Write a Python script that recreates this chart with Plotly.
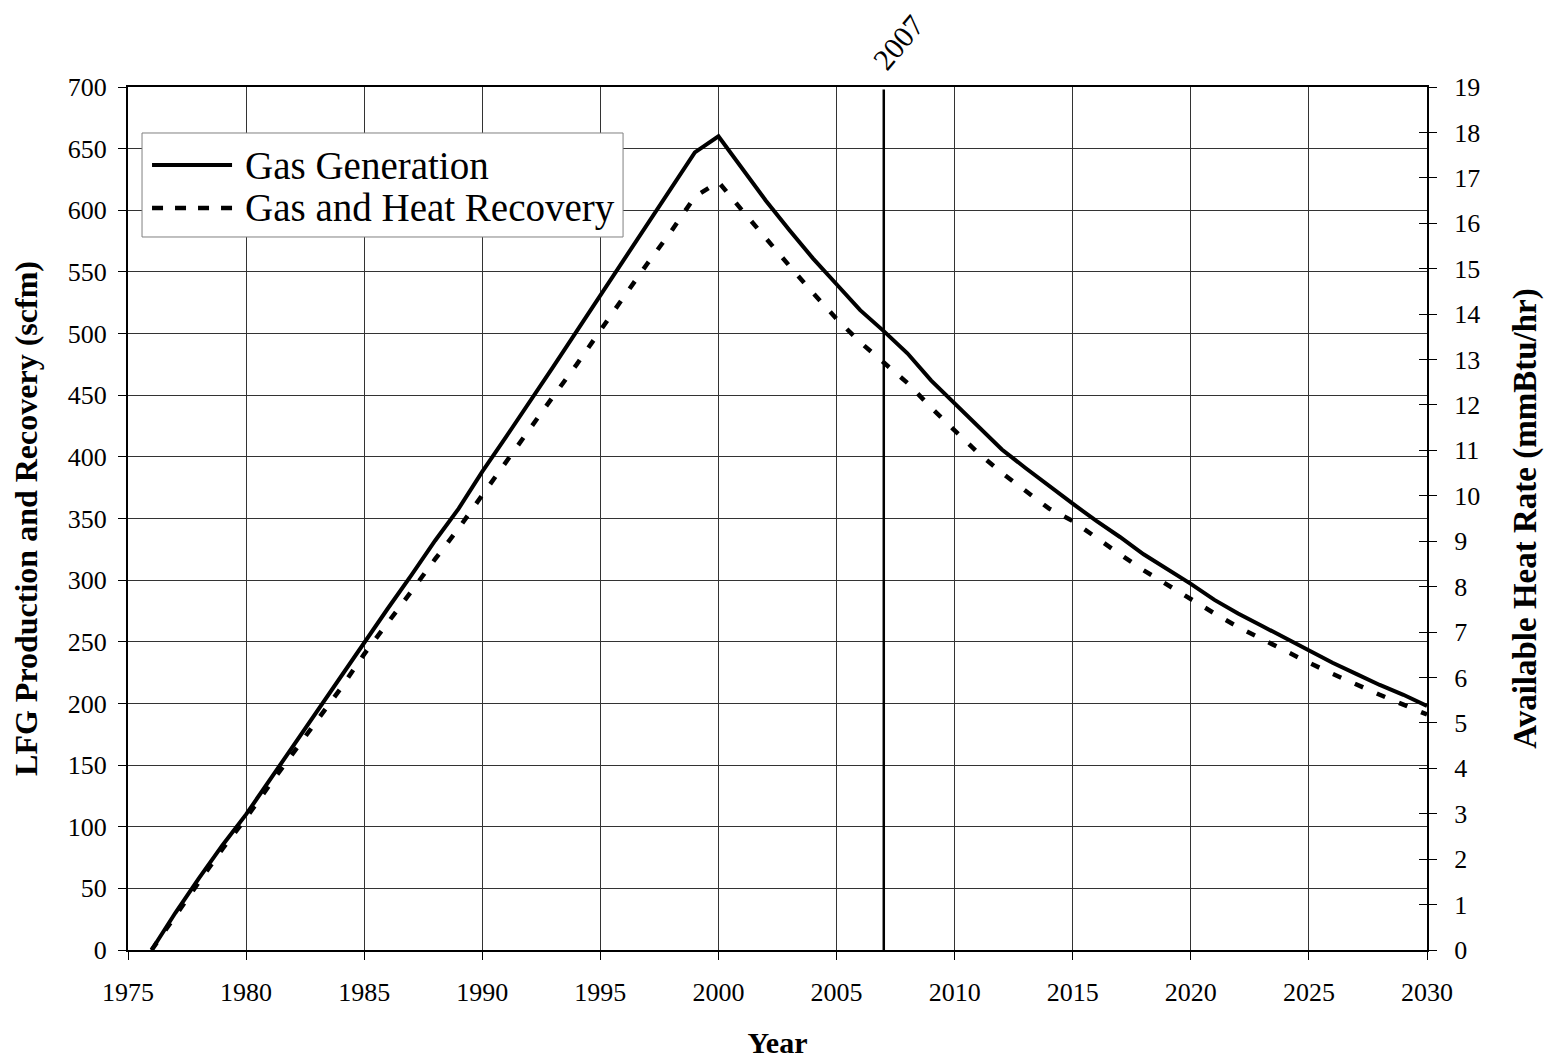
import plotly.graph_objects as go

years = list(range(1976, 2031))
gas_generation = [0, 30, 58, 85, 110, 138, 166, 194, 222, 250,
                  277, 304, 332, 358, 388, 416, 444, 473, 502, 531,
                  560, 589, 618, 647, 660, 634, 608, 584, 561, 540,
                  519, 502, 484, 462, 443, 424, 406, 391, 376, 362,
                  348, 335, 321, 309, 297, 284, 273, 263, 253, 243,
                  233, 224, 215, 207, 198]
gas_heat_recovery = [0, 28, 55, 82, 107, 134, 160, 186, 212, 240,
                     265, 291, 317, 342, 369, 396, 423, 449, 475, 503,
                     530, 557, 583, 611, 623, 600, 577, 555, 533, 512,
                     493, 477, 460, 440, 421, 403, 387, 372, 358, 348,
                     334, 321, 308, 296, 284, 273, 262, 252, 242, 233,
                     224, 215, 207, 199, 191]
marker_year = [2007, 2007]
marker_vals = [0, 698]
marker_label = "2007"
series_names = ["Gas Generation", "Gas and Heat Recovery"]

FONT = "Liberation Serif"
DASH = "9px,15px"

fig = go.Figure()
fig.add_trace(go.Scatter(x=years, y=gas_generation, mode="lines", name=series_names[0],
                         line=dict(color="black", width=4), showlegend=False))
fig.add_trace(go.Scatter(x=years, y=gas_heat_recovery, mode="lines", name=series_names[1],
                         line=dict(color="black", width=4.5, dash=DASH), showlegend=False))
fig.add_trace(go.Scatter(x=marker_year, y=marker_vals, mode="lines", showlegend=False,
                         line=dict(color="black", width=2.5)))
# invisible traces for the right-hand axes
fig.add_trace(go.Scatter(x=[1975], y=[0], yaxis="y2", mode="markers", showlegend=False,
                         marker=dict(opacity=0), hoverinfo="skip"))
fig.add_trace(go.Scatter(x=[1975], y=[0], yaxis="y3", mode="markers", showlegend=False,
                         marker=dict(opacity=0), hoverinfo="skip"))

fig.update_layout(
    width=1552, height=1057,
    margin=dict(l=120, r=133, t=79, b=115),
    paper_bgcolor="white", plot_bgcolor="white",
    font=dict(family=FONT, color="black", size=26),
    xaxis=dict(range=[1975, 2030], dtick=5, tick0=1975, showgrid=True, automargin=False,
               gridcolor="#333333", gridwidth=1, showline=True, linecolor="black", linewidth=2,
               mirror=True, ticks="outside", ticklen=8, tickcolor="black",
               tickfont=dict(size=26, family=FONT), ticklabelstandoff=10,
               title=dict(text="<b>Year</b>", font=dict(size=30, family=FONT), standoff=26),
               zeroline=False),
    yaxis=dict(range=[0, 700], dtick=50, showgrid=True, gridcolor="#333333", gridwidth=1,
               showline=True, linecolor="black", linewidth=2, mirror=True, automargin=False,
               ticks="outside", ticklen=8, tickcolor="black",
               tickfont=dict(size=26, family=FONT), ticklabelstandoff=6,
               title=dict(text="<b>LFG Production and Recovery (scfm)</b>",
                          font=dict(size=32, family=FONT), standoff=27),
               zeroline=False),
    yaxis2=dict(range=[0, 19], dtick=1, overlaying="y", side="right", showgrid=False,
                automargin=False,
                showline=True, linecolor="black", linewidth=2, ticks="outside", ticklen=8,
                tickcolor="black", tickfont=dict(size=26, family=FONT), zeroline=False,
                ticklabelstandoff=12,
                title=dict(text="<b>Available Heat Rate (mmBtu/hr)</b>",
                           font=dict(size=33, family=FONT), standoff=34)),
    yaxis3=dict(range=[0, 19], dtick=1, overlaying="y", side="right", showgrid=False,
                automargin=False,
                showline=False, ticks="inside", ticklen=8, tickcolor="black",
                showticklabels=False, zeroline=False),
    showlegend=False,
)

# hand-drawn legend box (paper coordinates)
fig.add_shape(type="rect", xref="paper", yref="paper", x0=0.0108, x1=0.3811, y0=0.8262, y1=0.9467,
              line=dict(color="#808080", width=1), fillcolor="white", layer="above")
fig.add_shape(type="line", xref="paper", yref="paper", x0=0.0185, x1=0.0801, y0=0.9096, y1=0.9096,
              line=dict(color="black", width=4), layer="above")
fig.add_shape(type="line", xref="paper", yref="paper", x0=0.0185, x1=0.0801, y0=0.8598, y1=0.8598,
              line=dict(color="black", width=4.5, dash="11px,12px"), layer="above")
fig.add_annotation(x=0.0885, y=0.9096, xref="paper", yref="paper", text=series_names[0],
                   showarrow=False, xanchor="left", yanchor="middle",
                   font=dict(size=39, family=FONT))
fig.add_annotation(x=0.0885, y=0.8598, xref="paper", yref="paper", text=series_names[1],
                   showarrow=False, xanchor="left", yanchor="middle",
                   font=dict(size=39, family=FONT))

fig.add_annotation(x=2007, y=1.0, xref="x", yref="paper", text=marker_label,
                   showarrow=False, textangle=-50, yanchor="middle", xanchor="center",
                   yshift=45, xshift=14, font=dict(size=30, family=FONT))

fig.write_html("out.html")
